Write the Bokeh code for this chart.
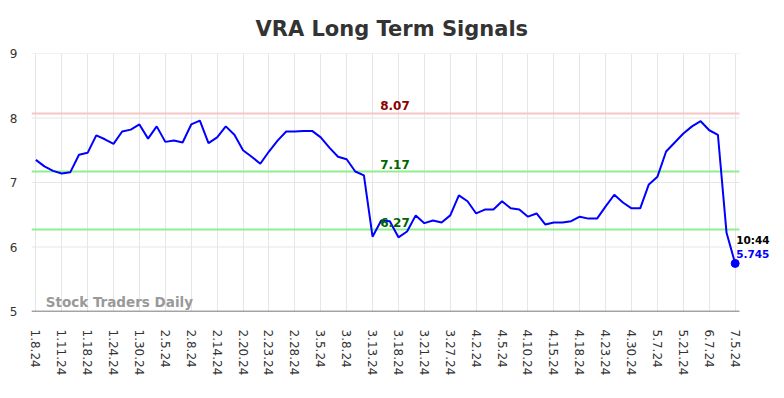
from bokeh.plotting import figure
from bokeh.models import FixedTicker, Label, ColumnDataSource, Range1d
from bokeh.embed import file_html
from bokeh.resources import INLINE

tick_labels = ["1.8.24", "1.11.24", "1.18.24", "1.24.24", "1.30.24", "2.5.24", "2.8.24",
               "2.14.24", "2.20.24", "2.23.24", "2.28.24", "3.5.24", "3.8.24", "3.13.24",
               "3.18.24", "3.21.24", "3.27.24", "4.2.24", "4.5.24", "4.10.24", "4.15.24",
               "4.18.24", "4.23.24", "4.30.24", "5.7.24", "5.21.24", "6.7.24", "7.5.24"]

values = [7.35, 7.25, 7.18, 7.14, 7.16, 7.43, 7.46, 7.73, 7.67, 7.60,
          7.79, 7.82, 7.90, 7.68, 7.87, 7.63, 7.65, 7.62, 7.90, 7.96,
          7.61, 7.70, 7.87, 7.74, 7.50, 7.40, 7.29, 7.48, 7.65, 7.79,
          7.79, 7.80, 7.80, 7.70, 7.54, 7.40, 7.36, 7.17, 7.11, 6.16,
          6.41, 6.40, 6.15, 6.24, 6.49, 6.37, 6.41, 6.38, 6.49, 6.80,
          6.71, 6.52, 6.58, 6.58, 6.71, 6.60, 6.58, 6.47, 6.52, 6.35,
          6.38, 6.38, 6.40, 6.47, 6.44, 6.44, 6.63, 6.81, 6.69, 6.60,
          6.60, 6.97, 7.09, 7.48, 7.62, 7.76, 7.87, 7.95, 7.81, 7.74,
          6.22, 5.745]

resistance = [8.07]
supports = [7.17, 6.27]
last_time = "10:44"
y_ticks = [5, 6, 7, 8, 9]

n = len(values)
idx = list(range(n))
tick_pos = list(range(0, n, 3))
x_lo, x_hi = -0.5, n - 0.5
x_extra = 4.17  # room on the right for the last-value annotation

p = figure(width=775, height=382, output_backend="svg", toolbar_location=None,
           x_range=Range1d(x_lo, x_hi + x_extra), y_range=Range1d(5, 9),
           min_border_left=31, min_border_right=0, min_border_top=53, min_border_bottom=71,
           title="VRA Long Term Signals")
p.outline_line_color = None
p.background_fill_color = "white"
p.border_fill_color = "white"

p.title.align = "left"
p.title.text_font = "DejaVu Sans"
p.title.text_font_size = "21px"
p.title.text_font_style = "bold"
p.title.text_color = "#333333"
p.title.offset = 224
p.title.standoff = 25

# axes
p.xaxis.ticker = FixedTicker(ticks=tick_pos)
p.xaxis.major_label_overrides = {t: lab for t, lab in zip(tick_pos, tick_labels)}
p.xaxis.major_label_orientation = "vertical"
p.xaxis.major_label_text_font = "DejaVu Sans"
p.xaxis.major_label_text_font_size = "12px"
p.xaxis.major_label_text_color = "#333333"
p.xaxis.major_tick_line_color = None
p.xaxis.minor_tick_line_color = None
p.xaxis.major_tick_out = 0
p.xaxis.major_tick_in = 0
p.xaxis.major_label_standoff = 18
p.xaxis.axis_line_color = None

p.yaxis.ticker = FixedTicker(ticks=y_ticks)
p.yaxis.major_label_text_font = "DejaVu Sans"
p.yaxis.major_label_text_font_size = "12px"
p.yaxis.major_label_text_color = "#333333"
p.yaxis.axis_line_color = None
p.yaxis.major_tick_line_color = None
p.yaxis.minor_tick_line_color = None
p.yaxis.major_tick_out = 0
p.yaxis.major_tick_in = 0
p.yaxis.major_label_standoff = 14

p.xgrid.ticker = FixedTicker(ticks=tick_pos)
p.xgrid.grid_line_color = "#e6e6e6"
p.ygrid.grid_line_color = None

# horizontal grid lines limited to the data area
p.segment(x0=[x_lo] * len(y_ticks), x1=[x_hi] * len(y_ticks), y0=y_ticks, y1=y_ticks,
          line_color="#e6e6e6", line_width=1)

# signal lines
for r in resistance:
    p.segment(x0=[x_lo], x1=[x_hi], y0=[r], y1=[r], line_color="#f7c6c6", line_width=2)
    p.add_layout(Label(x=40, y=r, text=f"{r:.2f}", text_color="#8b0000", text_font="DejaVu Sans",
                       text_font_size="12px", text_font_style="bold", x_offset=-1, y_offset=3,
                       text_baseline="bottom", text_align="left"))
for s in supports:
    p.segment(x0=[x_lo], x1=[x_hi], y0=[s], y1=[s], line_color="#90ee90", line_width=2)
    p.add_layout(Label(x=40, y=s, text=f"{s:.2f}", text_color="#006400", text_font="DejaVu Sans",
                       text_font_size="12px", text_font_style="bold", x_offset=-1, y_offset=3,
                       text_baseline="bottom", text_align="left"))

# bottom axis line
p.segment(x0=[x_lo], x1=[x_hi], y0=[5], y1=[5], line_color="#555555", line_width=1.5)

src = ColumnDataSource(data=dict(x=idx, y=values))
p.line("x", "y", source=src, line_color="#0000ff", line_width=2)
p.scatter([idx[-1]], [values[-1]], size=8, color="#0000ff")

p.add_layout(Label(x=idx[-1], y=values[-1], text=last_time, text_color="#000000",
                   text_font="DejaVu Sans", text_font_size="10.5px", text_font_style="bold",
                   x_offset=1, y_offset=17, text_baseline="bottom", text_align="left"))
p.add_layout(Label(x=idx[-1], y=values[-1], text=f"{values[-1]}", text_color="#0000ff",
                   text_font="DejaVu Sans", text_font_size="10.5px", text_font_style="bold",
                   x_offset=1, y_offset=5, text_baseline="bottom", text_align="left"))

p.add_layout(Label(x=1.15, y=5.0, text="Stock Traders Daily", text_color="#999999",
                   text_font="DejaVu Sans", text_font_size="13.5px", text_font_style="bold",
                   y_offset=2, text_baseline="bottom", text_align="left"))

open("out.html", "w").write(file_html(p, INLINE))
